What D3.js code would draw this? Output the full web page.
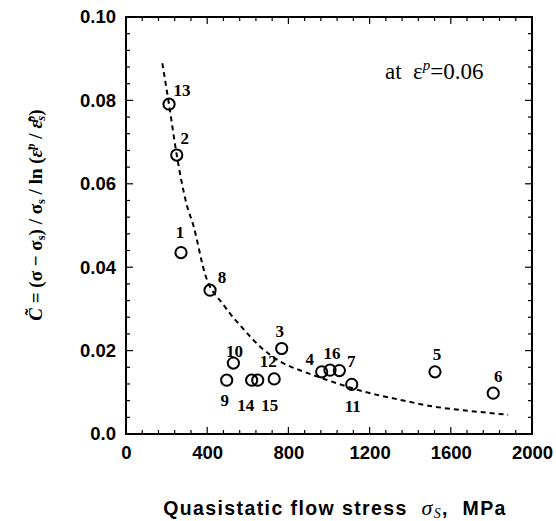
<!DOCTYPE html>
<html><head><meta charset="utf-8">
<script src="https://cdn.jsdelivr.net/npm/d3@7"></script>
<style>body{margin:0;background:#fff} text{white-space:pre}</style>
</head><body>
<svg id="chart" width="556" height="521"></svg>
<script>
// ---- data ----
const pointIds = [1,2,3,4,5,6,7,8,9,10,11,12,13,14,15,16];
const stressValues = [271,250,767,964,1522,1809,1051,414,496,529,1112,730,212,619,649,1005];
const cValues = [0.0435,0.0669,0.0205,0.0149,0.0149,0.0098,0.0152,0.0345,0.0129,0.0170,0.0119,0.0132,0.0791,0.0129,0.0129,0.0153];
// label offsets in px (layout)
const labelDx = [-1,8,-2,-12,2,5,12,12,-2,1,1,-6,13,-6,12,2];
const labelDy = [-20,-17,-17,-12,-17,-17,-9,-13,20,-12,22,-17,-14,25,25,-17];
// fitted dashed curve
const fitStress = [179,212,250,299,332,389,480,578,660,759,808,857,1000,1169,1350,1514,1700,1883];
const fitC = [0.0889,0.0790,0.0669,0.0550,0.0500,0.0384,0.0310,0.0252,0.0210,0.0174,0.0162,0.0153,0.0128,0.0102,0.0082,0.0066,0.0055,0.0046];
const xTicks = [0,400,800,1200,1600,2000];
const yTicks = [0,0.02,0.04,0.06,0.08,0.10];
const yTickLabels = ["0.0","0.02","0.04","0.06","0.08","0.10"];

const svg = d3.select("#chart");
const L=126, R=532, T=17, B=434;
const x = d3.scaleLinear().domain([0,2000]).range([L,R]);
const y = d3.scaleLinear().domain([0,0.10]).range([B,T]);

// minor ticks
const g = svg.append("g");
const xMinor = d3.range(0,2001,80);
const yMinor = d3.range(0,0.1001,0.004);
xMinor.forEach(v=>{
  const major = xTicks.includes(v);
  const len = major?7:4;
  g.append("line").attr("x1",x(v)).attr("x2",x(v)).attr("y1",B).attr("y2",B-len).attr("stroke","#000").attr("stroke-width",1.2);
  g.append("line").attr("x1",x(v)).attr("x2",x(v)).attr("y1",T).attr("y2",T+len).attr("stroke","#000").attr("stroke-width",1.2);
});
yMinor.forEach(v=>{
  const major = yTicks.some(t=>Math.abs(t-v)<1e-9);
  const len = major?7:4;
  g.append("line").attr("y1",y(v)).attr("y2",y(v)).attr("x1",L).attr("x2",L+len).attr("stroke","#000").attr("stroke-width",1.2);
  g.append("line").attr("y1",y(v)).attr("y2",y(v)).attr("x1",R).attr("x2",R-len).attr("stroke","#000").attr("stroke-width",1.2);
});
// frame
svg.append("rect").attr("x",L).attr("y",T).attr("width",R-L).attr("height",B-T)
  .attr("fill","none").attr("stroke","#000").attr("stroke-width",2);

// tick labels
const xAxis = d3.axisBottom(x).tickValues(xTicks).tickSize(0).tickPadding(12).tickFormat(d3.format("d"));
svg.append("g").attr("transform",`translate(0,${B})`).call(xAxis)
  .call(s=>s.select(".domain").remove())
  .selectAll("text").attr("font-family","Liberation Sans, Arial, sans-serif").attr("font-weight","bold").attr("font-size",18.5).attr("fill","#000");
const yAxis = d3.axisLeft(y).tickValues(yTicks).tickSize(0).tickPadding(10).tickFormat((d,i)=>yTickLabels[i]);
svg.append("g").attr("transform",`translate(${L},0)`).call(yAxis)
  .call(s=>s.select(".domain").remove())
  .selectAll("text").attr("font-family","Liberation Sans, Arial, sans-serif").attr("font-weight","bold").attr("font-size",18.5).attr("fill","#000");

// dashed fit curve
const line = d3.line().x((d,i)=>x(fitStress[i])).y((d,i)=>y(fitC[i])).curve(d3.curveMonotoneX);
svg.append("path").attr("d",line(fitStress)).attr("fill","none").attr("stroke","#000")
  .attr("stroke-width",2).attr("stroke-dasharray","5,4");

// points
svg.append("g").selectAll("circle").data(pointIds).join("circle")
  .attr("cx",(d,i)=>x(stressValues[i])).attr("cy",(d,i)=>y(cValues[i])).attr("r",5.6)
  .attr("fill","none").attr("stroke","#000").attr("stroke-width",2);
svg.append("g").selectAll("text").data(pointIds).join("text")
  .attr("x",(d,i)=>x(stressValues[i])+labelDx[i]).attr("y",(d,i)=>y(cValues[i])+labelDy[i])
  .attr("text-anchor","middle").attr("dominant-baseline","central")
  .attr("font-family","Liberation Serif, Times New Roman, serif").attr("font-weight","bold").attr("font-size",17)
  .text(d=>d);

// annotation
const ann = svg.append("text").attr("x",385).attr("y",79).attr("font-family","Liberation Serif, Times New Roman, serif").attr("font-size",23);
ann.append("tspan").text("at  ε");
ann.append("tspan").attr("font-style","italic").attr("font-size",15).attr("dy",-9).text("p");
ann.append("tspan").attr("dy",9).text("=0.06");

// x label
const xl = svg.append("text").attr("x",335).attr("y",515).attr("text-anchor","middle")
  .attr("font-family","Liberation Sans, Arial, sans-serif").attr("font-weight","bold").attr("font-size",19.5).attr("letter-spacing",1.4);
xl.append("tspan").text("Quasistatic flow stress  ");
xl.append("tspan").attr("font-family","Liberation Serif, serif").attr("font-style","italic").attr("font-weight","normal").attr("font-size",22).text("σ");
xl.append("tspan").attr("font-family","Liberation Serif, serif").attr("font-style","italic").attr("font-weight","normal").attr("font-size",14).attr("dy",3).text("S");
xl.append("tspan").attr("dy",-3).text(",  MPa");

// y label
const yl = svg.append("text").attr("transform","translate(42,215) rotate(-90)").attr("text-anchor","middle")
  .attr("font-family","Liberation Serif, Times New Roman, serif").attr("font-weight","bold").attr("font-size",19);
yl.append("tspan").attr("font-style","italic").text("C\u0303");
yl.append("tspan").text(" = (σ − σ");
yl.append("tspan").attr("font-size",12.5).attr("dy",3).text("s");
yl.append("tspan").attr("dy",-3).text(") / σ");
yl.append("tspan").attr("font-size",12.5).attr("dy",3).text("s");
yl.append("tspan").attr("dy",-3).text(" / ln (");
yl.append("tspan").attr("font-style","italic").text("ε\u0307");
yl.append("tspan").attr("font-size",12.5).attr("font-style","italic").attr("dy",-7).text("p");
yl.append("tspan").attr("dy",7).text(" / ");
yl.append("tspan").attr("font-style","italic").text("ε\u0307");
yl.append("tspan").attr("font-size",12.5).attr("font-style","italic").attr("dy",3).text("s");
yl.append("tspan").attr("font-size",12.5).attr("font-style","italic").attr("dx",-6).attr("dy",-10).text("p");
yl.append("tspan").attr("dy",7).text(")");
</script>
</body></html>
